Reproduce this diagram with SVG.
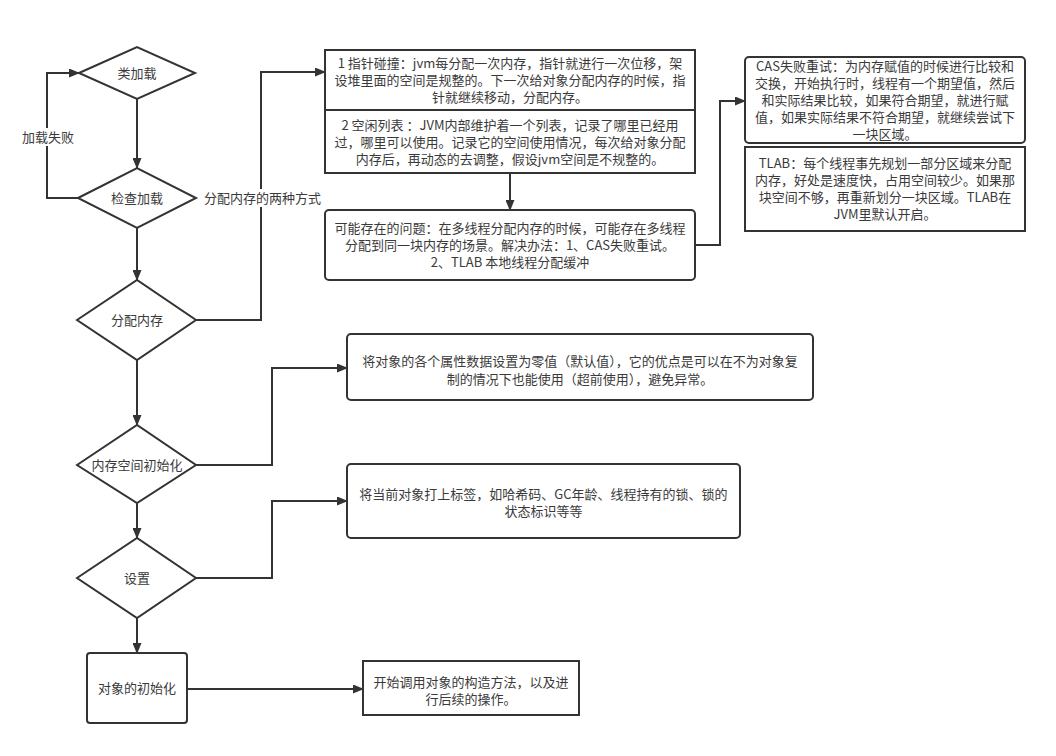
<svg xmlns="http://www.w3.org/2000/svg" width="1056" height="756" viewBox="0 0 1056 756">
<defs>
<marker id="arr" markerWidth="11" markerHeight="9" refX="10" refY="4.5" orient="auto" markerUnits="userSpaceOnUse">
<path d="M0,0 L11,4.5 L0,9 z" fill="#333"/>
</marker>
<style>
.s{fill:#fff;stroke:#333;stroke-width:2}
.c{fill:none;stroke:#333;stroke-width:2;marker-end:url(#arr)}
.l{fill:none;stroke:#333;stroke-width:2}
text{font-family:"Noto Sans CJK SC","Microsoft YaHei",sans-serif;font-size:13px;fill:#3a3a3a;text-anchor:middle}
.lb{fill:#fff;stroke:none}
</style>
</defs>
<rect width="1056" height="756" fill="#fff"/>
<g id="connectors">
<path class="c" d="M137,97 V168"/>
<path class="c" d="M78,198 H47 V73 H79"/>
<path class="c" d="M137,228 V280"/>
<path class="c" d="M196,320 H261 V72 H325"/>
<path class="c" d="M510,173 V210"/>
<path class="c" d="M695,245 H720 V101 H745"/>
<path class="c" d="M137,360 V425"/>
<path class="c" d="M196,465 H272 V368 H347"/>
<path class="c" d="M137,503 V538"/>
<path class="c" d="M196,578 H272 V501 H347"/>
<path class="c" d="M137,618 V653"/>
<path class="c" d="M187,689 H363"/>
<rect class="lb" x="21" y="128" width="54" height="18"/>
<text x="48" y="141.5">加载失败</text>
<rect class="lb" x="202" y="189" width="120" height="18"/>
<text x="204" y="202.5" style="text-anchor:start">分配内存的两种方式</text>
</g>
<g id="n-classload">
<polygon class="s" points="79,73 137,47 195,73 137,99"/>
<text x="137" y="77.5">类加载</text>
</g>
<g id="n-check">
<polygon class="s" points="78,198 137,168 196,198 137,228"/>
<text x="137" y="202.5">检查加载</text>
</g>
<g id="n-alloc">
<polygon class="s" points="77,320 137,280 196,320 137,360"/>
<text x="137" y="324.5">分配内存</text>
</g>
<g id="n-meminit">
<polygon class="s" points="77,465 137,425 196,465 137,503"/>
<text x="137" y="469.5">内存空间初始化</text>
</g>
<g id="n-set">
<polygon class="s" points="77,578 137,538 196,578 137,618"/>
<text x="137" y="582.5">设置</text>
</g>
<g id="n-objinit">
<rect class="s" x="87" y="653" width="100" height="70" rx="3"/>
<text x="137" y="692.5">对象的初始化</text>
</g>
<g id="n-ways">
<rect class="s" x="325" y="50" width="370" height="123"/>
<line class="l" x1="325" y1="110" x2="695" y2="110"/>
<text x="510" y="68">1 指针碰撞：jvm每分配一次内存，指针就进行一次位移，架</text>
<text x="510" y="85">设堆里面的空间是规整的。下一次给对象分配内存的时候，指</text>
<text x="510" y="102">针就继续移动，分配内存。</text>
<text x="510" y="130">2 空闲列表 ：JVM内部维护着一个列表，记录了哪里已经用</text>
<text x="510" y="147">过，哪里可以使用。记录它的空间使用情况，每次给对象分配</text>
<text x="510" y="164">内存后，再动态的去调整，假设jvm空间是不规整的。</text>
</g>
<g id="n-problem">
<rect class="s" x="325" y="210" width="370" height="70" rx="4"/>
<text x="510" y="232.5">可能存在的问题：在多线程分配内存的时候，可能存在多线程</text>
<text x="510" y="249.5">分配到同一块内存的场景。解决办法：1、CAS失败重试。</text>
<text x="510" y="266.5">2、TLAB 本地线程分配缓冲</text>
</g>
<g id="n-cas">
<rect class="s" x="745" y="57" width="280" height="86" rx="4"/>
<text x="885" y="70.5">CAS失败重试：为内存赋值的时候进行比较和</text>
<text x="885" y="87.5">交换，开始执行时，线程有一个期望值，然后</text>
<text x="885" y="104.5">和实际结果比较，如果符合期望，就进行赋</text>
<text x="885" y="121.5">值，如果实际结果不符合期望，就继续尝试下</text>
<text x="885" y="138.5">一块区域。</text>
</g>
<g id="n-tlab">
<rect class="s" x="745" y="147" width="280" height="84"/>
<text x="885" y="168">TLAB：每个线程事先规划一部分区域来分配</text>
<text x="885" y="185">内存，好处是速度快，占用空间较少。如果那</text>
<text x="885" y="202">块空间不够，再重新划分一块区域。TLAB在</text>
<text x="885" y="219">JVM里默认开启。</text>
</g>
<g id="n-zero">
<rect class="s" x="347" y="334" width="466" height="66" rx="4"/>
<text x="580" y="366">将对象的各个属性数据设置为零值（默认值），它的优点是可以在不为对象复</text>
<text x="580" y="384">制的情况下也能使用（超前使用），避免异常。</text>
</g>
<g id="n-header">
<rect class="s" x="347" y="464" width="393" height="74" rx="4"/>
<text x="543.5" y="498.5">将当前对象打上标签，如哈希码、GC年龄、线程持有的锁、锁的</text>
<text x="543.5" y="515.5">状态标识等等</text>
</g>
<g id="n-ctor">
<rect class="s" x="363" y="661" width="216" height="54"/>
<text x="471" y="686.5">开始调用对象的构造方法，以及进</text>
<text x="471" y="703.5">行后续的操作。</text>
</g>
</svg>
